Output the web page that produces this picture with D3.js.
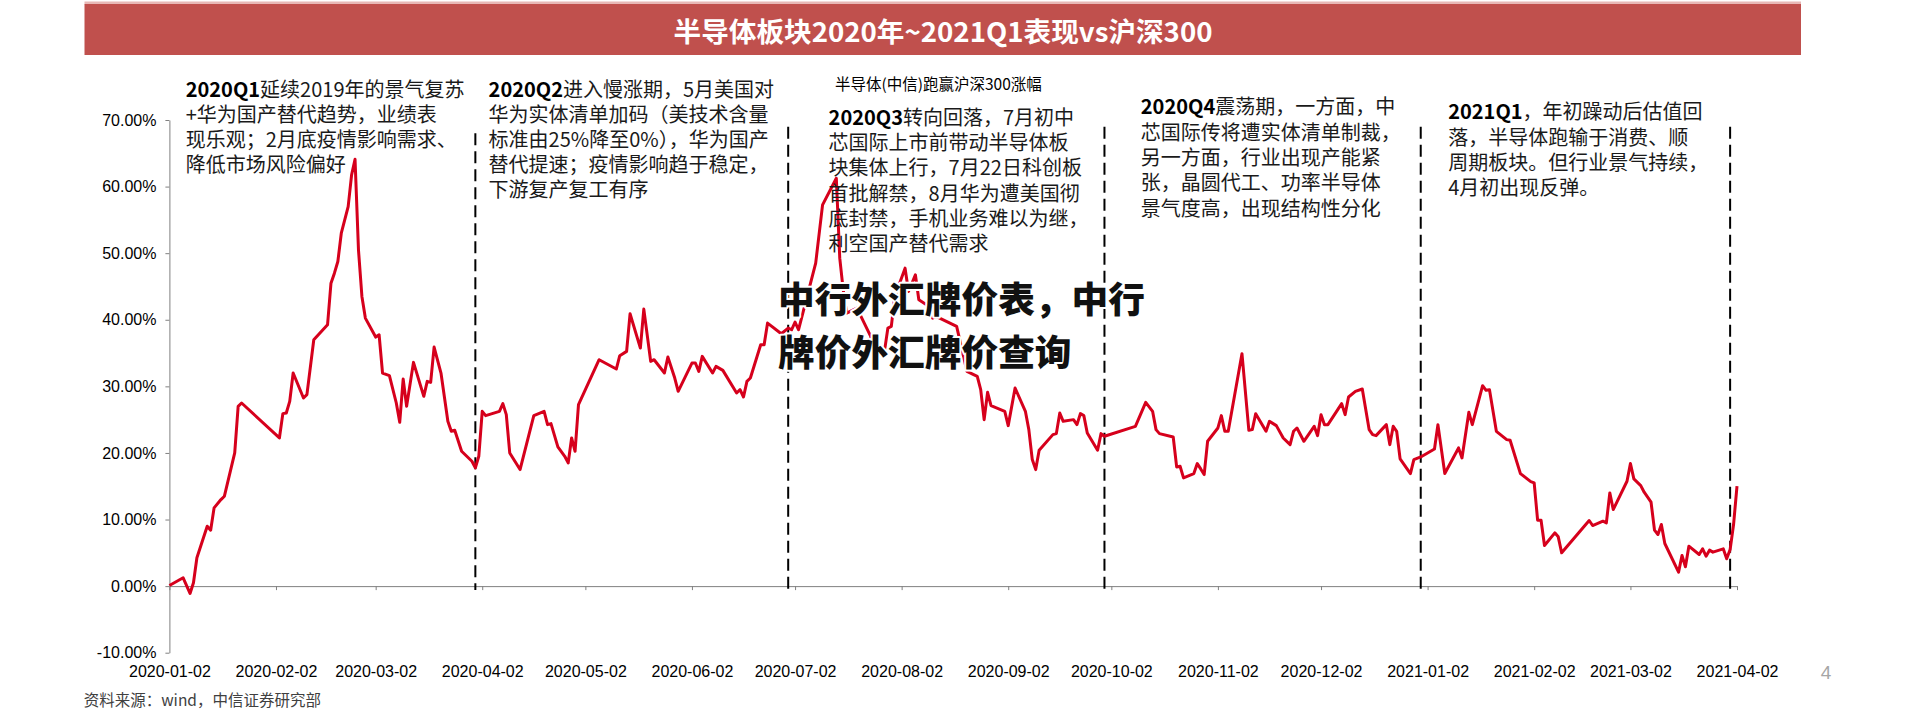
<!DOCTYPE html>
<html><head><meta charset="utf-8">
<script src="https://cdn.jsdelivr.net/npm/d3@7"></script>
<style>body{margin:0;background:#fff;} svg{display:block}</style>
</head><body><svg id="c" width="1920" height="714"></svg>
<script>
// ---------------- data ----------------
const startDate = "2020-01-02";
const endDate = "2021-04-02";
// calendar days after startDate
const dayOffsets = [0,4,6,7,8,11,12,13,15,16,19,20,21,32,33,34,35,36,39,40,42,46,47,48,49,50,52,53,54,55,56,57,60,61,62,64,66,67,68,69,71,74,75,76,77,79,81,82,83,85,88,89,90,91,92,96,97,98,99,102,106,109,110,111,113,115,
116,117,118,119,125,130,131,133,134,137,138,140,141,144,145,147,148,152,153,154,155,158,159,161,165,166,167,168,169,172,173,174,178,180,181,182,183,188,190,194,195,196,197,200,204,205,208,209,210,211,214,215,217,218,221,222,223,229,
232,235,236,237,238,239,243,244,246,249,250,251,252,253,257,258,259,260,263,264,265,266,267,270,271,272,
281,284,286,287,288,292,293,294,295,298,299,300,301,302,305,306,307,308,312,314,315,316,319,320,322,324,326,327,328,330,333,334,335,336,337,341,342,343,345,347,349,350,351,354,355,356,357,358,361,362,364,
368,369,371,375,376,378,379,382,383,384,386,389,390,393,396,397,398,399,400,403,404,405,413,414,417,418,419,420,424,425,426,428,429,431,432,433,434,435,439,440,441,442,445,446,447,448,449,452,453,454,455,456];
// 半导体(中信)跑赢沪深300涨幅, %
const excessReturn = [0.1,1.25,-1.1,0.5,4.25,9.0,8.4,11.75,13.0,13.5,20.0,27.0,27.5,22.25,25.9,26.0,27.75,32.0,28.25,28.75,37.0,39.25,45.5,47.0,48.75,53.0,57.0,61.75,64.1,50.5,43.5,40.25,37.4,37.75,32.0,31.6,27.5,24.6,31.1,27.0,33.6,28.5,30.75,30.6,35.9,32.0,24.75,23.25,23.4,20.25,18.75,17.75,19.5,26.25,25.6,26.25,27.4,25.75,20.0,17.5,25.6,26.25,24.25,24.4,20.9,19.5,
18.5,22.25,20.25,27.25,34.0,32.6,34.6,35.25,40.9,35.75,41.6,33.75,34.0,32.0,34.4,31.25,29.25,33.5,33.5,32.25,34.5,32.0,33.0,32.4,29.0,29.5,28.4,30.75,31.25,36.25,36.25,39.5,37.9,38.75,38.5,39.65,38.5,48.5,57.25,61.25,49.25,44.5,41.0,41.75,37.5,34.75,35.25,38.75,39.0,43.5,47.75,44.25,46.75,43.0,42.0,40.25,40.5,39.0,
32.25,31.5,29.5,25.0,29.1,27.1,26.25,24.1,29.75,26.25,23.5,19.0,17.5,20.4,22.75,22.9,26.0,24.75,25.0,24.25,25.9,25.6,23.0,20.4,22.9,22.5,
24.0,27.6,26.25,23.5,22.9,22.4,17.9,18.0,16.25,16.9,18.4,17.6,16.75,21.75,23.75,25.6,23.25,23.25,34.9,23.4,23.5,25.9,23.25,24.75,24.1,22.25,21.25,23.25,23.75,21.75,24.0,22.6,25.75,24.25,24.25,27.4,25.75,28.4,29.25,29.6,23.5,22.75,22.6,24.25,21.25,24.0,23.25,19.1,16.9,19.0,19.4,
20.6,24.25,16.9,20.75,19.25,26.1,24.25,30.1,29.4,29.5,23.25,22.0,21.9,16.9,15.7,15.5,9.9,9.9,6.1,8.0,7.4,5.0,9.85,9.1,9.75,9.5,14.0,11.5,15.75,18.4,16.1,15.1,14.1,12.6,8.4,7.75,9.25,6.4,2.1,4.6,2.9,6.0,4.75,5.6,4.5,5.4,5.1,5.6,4.1,5.5,9.25,15.0];

const xTickLabels = ["2020-01-02","2020-02-02","2020-03-02","2020-04-02","2020-05-02","2020-06-02","2020-07-02","2020-08-02","2020-09-02","2020-10-02","2020-11-02","2020-12-02","2021-01-02","2021-02-02","2021-03-02","2021-04-02"];
const yTickValues = [-10,0,10,20,30,40,50,60,70];
const quarterEnds = ["2020-03-31","2020-06-30","2020-09-30","2020-12-31","2021-03-31"];

const titleText = "半导体板块2020年~2021Q1表现vs沪深300";
const seriesName = "半导体(中信)跑赢沪深300涨幅";
const sourceText = "资料来源：wind，中信证券研究部";
const pageNumber = "4";
const overlayLines = ["中行外汇牌价表，中行", "牌价外汇牌价查询"];

const noteHeads = ["2020Q1", "2020Q2", "2020Q3", "2020Q4", "2021Q1"];
const noteLines = [
  ["延续2019年的景气复苏", "+华为国产替代趋势，业绩表", "现乐观；2月底疫情影响需求、", "降低市场风险偏好"],
  ["进入慢涨期，5月美国对", "华为实体清单加码（美技术含量", "标准由25%降至0%），华为国产", "替代提速；疫情影响趋于稳定，", "下游复产复工有序"],
  ["转向回落，7月初中", "芯国际上市前带动半导体板", "块集体上行，7月22日科创板", "首批解禁，8月华为遭美国彻", "底封禁，手机业务难以为继，", "利空国产替代需求"],
  ["震荡期，一方面，中", "芯国际传将遭实体清单制裁，", "另一方面，行业出现产能紧", "张，晶圆代工、功率半导体", "景气度高，出现结构性分化"],
  ["，年初躁动后估值回", "落，半导体跑输于消费、顺", "周期板块。但行业景气持续，", "4月初出现反弹。"]
];

// ---------------- drawing ----------------
const parse = d3.timeParse("%Y-%m-%d");
const t0 = parse(startDate);
const series = dayOffsets.map((d, i) => ({date: d3.timeDay.offset(t0, d), v: excessReturn[i]}));

const svg = d3.select("#c");
const cjk = "'Noto Sans CJK SC', 'Noto Sans', sans-serif";
const latin = "'Liberation Sans', Arial, sans-serif";

// title bar
svg.append("rect").attr("x", 84.5).attr("y", 1.5).attr("width", 1716.5).attr("height", 3).attr("fill", "#E8B8B6");
svg.append("rect").attr("x", 84.5).attr("y", 4).attr("width", 1716.5).attr("height", 51).attr("fill", "#C0504D");
svg.append("text").text(titleText)
  .attr("x", 943).attr("y", 41.5).attr("text-anchor", "middle")
  .attr("font-family", cjk).attr("font-weight", 700).attr("font-size", 27)
  .attr("textLength", 539).attr("lengthAdjust", "spacingAndGlyphs")
  .attr("fill", "#fff");

const x = d3.scaleTime().domain([parse(startDate), parse(endDate)]).range([169.4, 1737]);
const y = d3.scaleLinear().domain([-10, 70]).range([652.7, 120]);

// y axis
const gy = svg.append("g").attr("transform", `translate(${x.range()[0]},0)`)
  .call(d3.axisLeft(y).tickValues(yTickValues).tickFormat(d => d.toFixed(2) + "%").tickSize(4).tickSizeOuter(0).tickPadding(9));
gy.select(".domain").attr("stroke", "#808080");
gy.selectAll(".tick line").attr("stroke", "#808080");
gy.selectAll("text").attr("font-family", latin).attr("font-size", 16).attr("fill", "#000");

// x axis at 0%
const gx = svg.append("g").attr("transform", `translate(0,${y(0)})`)
  .call(d3.axisBottom(x).tickValues(xTickLabels.map(parse)).tickFormat(d3.timeFormat("%Y-%m-%d")).tickSize(4).tickSizeOuter(0));
gx.select(".domain").attr("stroke", "#808080");
gx.selectAll(".tick line").attr("stroke", "#808080");
gx.selectAll("text").attr("font-family", latin).attr("font-size", 16).attr("fill", "#000")
  .attr("y", 677 - y(0)).attr("dy", 0);

// quarter dividers
svg.append("g").selectAll("line").data(quarterEnds).join("line")
  .attr("x1", d => x(parse(d))).attr("x2", d => x(parse(d)))
  .attr("y1", (d, i) => i === 0 ? y(68) : y(69)).attr("y2", y(-0.6))
  .attr("stroke", "#000").attr("stroke-width", 2).attr("stroke-dasharray", "12,6");

// series line
svg.append("path").datum(series)
  .attr("d", d3.line().x(d => x(d.date)).y(d => y(d.v)))
  .attr("fill", "none").attr("stroke", "#D6001C").attr("stroke-width", 3).attr("stroke-linejoin", "round");

// series name
svg.append("text").text(seriesName).attr("x", 835).attr("y", 90)
  .attr("font-family", cjk).attr("font-size", 15.5).attr("fill", "#000");

// annotations
const notePos = [[185.7, 97, 25], [488.6, 97, 25], [828.6, 125, 25.2], [1140.8, 114.3, 25.3], [1448.2, 119.3, 25.3]];
noteLines.forEach((lines, k) => {
  const [nx, ny, lh] = notePos[k];
  const t = svg.append("text").attr("font-family", cjk).attr("font-size", 20).attr("fill", "#1a1a1a");
  lines.forEach((ln, i) => {
    if (i === 0) {
      t.append("tspan").attr("x", nx).attr("y", ny).attr("font-weight", 700).attr("fill", "#000").text(noteHeads[k]);
      t.append("tspan").text(ln);
    } else {
      t.append("tspan").attr("x", nx).attr("y", ny + i * lh).text(ln);
    }
  });
});

// overlay caption
overlayLines.forEach((ln, i) => {
  svg.append("text").text(ln).attr("x", 778).attr("y", 313 + i * 52.5)
    .attr("font-family", cjk).attr("font-weight", 900).attr("font-size", 36.7)
    .attr("fill", "#111").attr("stroke", "#fff").attr("stroke-width", 4)
    .attr("paint-order", "stroke").attr("stroke-linejoin", "round");
});

// source + page number
svg.append("text").text(sourceText).attr("x", 83.7).attr("y", 705.5)
  .attr("font-family", cjk).attr("font-size", 15.5).attr("fill", "#404040");
svg.append("text").text(pageNumber).attr("x", 1826).attr("y", 679).attr("text-anchor", "middle")
  .attr("font-family", latin).attr("font-size", 19).attr("fill", "#A6A6A6");
</script></body></html>
